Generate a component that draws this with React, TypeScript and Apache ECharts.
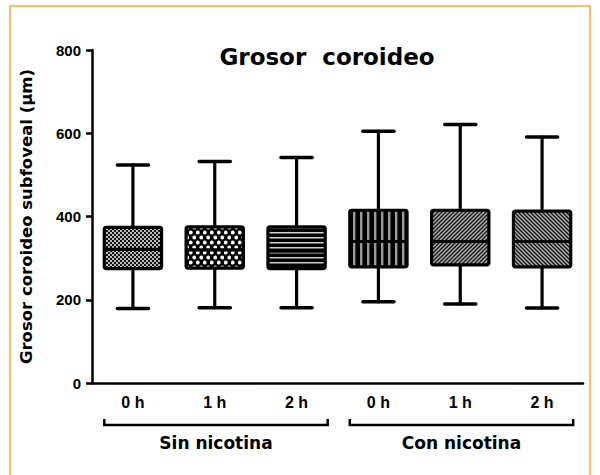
import React, { useEffect, useRef } from "react";
import * as echarts from "echarts";

// ---- data ----
const categories = ["0 h", "1 h", "2 h", "0 h", "1 h", "2 h"];
const groupLabels = ["Sin nicotina", "Con nicotina"];
const groupRanges = [
  [0, 2],
  [3, 5],
];
const minVals = [179, 181, 181, 195, 190, 180];
const q1Vals = [275, 276, 275, 279, 284, 279];
const medVals = [321, 320, 317, 340, 340, 340];
const q3Vals = [374, 375, 375, 415, 415, 413];
const maxVals = [524, 532, 542, 605, 621, 591];
const yMin = 0;
const yMax = 800;
const yInterval = 200;
const titleText = "Grosor\u00a0 coroideo";
const yAxisName = "Grosor coroideo subfoveal (\u03bcm)";

// ---- pattern styles ----
const svgUrl = (w: number, h: number, body: string) =>
  "data:image/svg+xml;charset=utf-8," +
  encodeURIComponent(
    `<svg xmlns="http://www.w3.org/2000/svg" width="${w}" height="${h}" viewBox="0 0 ${w} ${h}">${body}</svg>`
  );
const pat = (w: number, h: number, body: string) => ({
  image: svgUrl(w, h, body),
  repeat: "repeat",
  imageWidth: w,
  imageHeight: h,
});
const patterns = [
  pat(4, 4, `<rect width="4" height="4" fill="#bdbdbd"/><rect width="2" height="2" fill="#111"/><rect x="2" y="2" width="2" height="2" fill="#111"/>`),
  pat(7, 10, `<rect width="7" height="10" fill="#000"/><circle cx="1.75" cy="2.5" r="1.9" fill="#fff"/><circle cx="5.25" cy="7.5" r="1.9" fill="#fff"/>`),
  pat(5, 5, `<rect width="5" height="5" fill="#000"/><rect y="2" width="5" height="1.5" fill="#cfcfcf"/>`),
  pat(7, 7, `<rect width="7" height="7" fill="#000"/><rect x="3" width="2.4" height="7" fill="#9a9a9a"/>`),
  pat(4, 4, `<rect width="4" height="4" fill="#1a1a1a"/><path d="M-1,1 L1,-1 M0,4 L4,0 M3,5 L5,3" stroke="#b5b5b5" stroke-width="1.3"/>`),
  pat(4, 4, `<rect width="4" height="4" fill="#1a1a1a"/><path d="M-1,3 L1,5 M0,0 L4,4 M3,-1 L5,1" stroke="#b5b5b5" stroke-width="1.3"/>`),
];

const seriesData = categories.map((_, i) => [i, minVals[i], q1Vals[i], medVals[i], q3Vals[i], maxVals[i]]);

export default function App() {
  const ref = useRef<HTMLDivElement>(null);
  useEffect(() => {
    if (!ref.current) return;
    const chart = echarts.init(ref.current, null, { renderer: "svg" });
    const lw = 3.2;
    const option: any = {
      animation: false,
      backgroundColor: "#fff",
      textStyle: { fontFamily: "Liberation Sans, Arial, sans-serif" },
      grid: { left: 92, right: 17, top: 50, bottom: 92 },
      xAxis: {
        type: "category",
        data: categories.map((_, i) => String(i)),
        axisLine: { lineStyle: { color: "#000", width: 2.5 } },
        axisTick: { alignWithLabel: true, length: 6, lineStyle: { color: "#000", width: 2.5 } },
        axisLabel: {
          formatter: (_v: string, i: number) => categories[i],
          color: "#000",
          fontWeight: "bold",
          fontSize: 16,
          margin: 11,
          fontFamily: "Liberation Sans, Arial, sans-serif",
        },
        splitLine: { show: false },
      },
      yAxis: {
        type: "value",
        min: yMin,
        max: yMax,
        interval: yInterval,
        name: yAxisName,
        nameLocation: "middle",
        nameRotate: 90,
        nameGap: 57,
        nameTextStyle: {
          color: "#000",
          fontWeight: "bold",
          fontSize: 16.5,
          fontFamily: "DejaVu Sans, sans-serif",
        },
        axisLine: { show: true, lineStyle: { color: "#000", width: 2.5 } },
        axisTick: { show: true, length: 6, lineStyle: { color: "#000", width: 2.5 } },
        axisLabel: {
          color: "#000",
          fontWeight: "bold",
          fontSize: 15,
          margin: 11,
          fontFamily: "Liberation Sans, Arial, sans-serif",
        },
        splitLine: { show: false },
      },
      series: [
        {
          type: "custom",
          data: seriesData,
          encode: { x: 0, y: [1, 2, 3, 4, 5] },
          renderItem: (params: any, api: any) => {
            const xi = api.value(0);
            const pMin = api.coord([xi, api.value(1)]);
            const pQ1 = api.coord([xi, api.value(2)]);
            const pMed = api.coord([xi, api.value(3)]);
            const pQ3 = api.coord([xi, api.value(4)]);
            const pMax = api.coord([xi, api.value(5)]);
            const band = api.size([1, 0])[0];
            const bw = band * 0.7;
            const cw = band * 0.38;
            const cx = pMed[0];
            const ls = { stroke: "#000", lineWidth: lw, lineCap: "round" };
            return {
              type: "group",
              children: [
                { type: "line", shape: { x1: cx, y1: pMax[1], x2: cx, y2: pQ3[1] }, style: ls },
                { type: "line", shape: { x1: cx, y1: pQ1[1], x2: cx, y2: pMin[1] }, style: ls },
                { type: "line", shape: { x1: cx - cw / 2, y1: pMax[1], x2: cx + cw / 2, y2: pMax[1] }, style: { ...ls, lineWidth: 3.5 } },
                { type: "line", shape: { x1: cx - cw / 2, y1: pMin[1], x2: cx + cw / 2, y2: pMin[1] }, style: { ...ls, lineWidth: 3.5 } },
                {
                  type: "rect",
                  shape: { x: cx - bw / 2, y: pQ3[1], width: bw, height: pQ1[1] - pQ3[1], r: 2 },
                  style: { fill: patterns[params.dataIndex % patterns.length], stroke: "#000", lineWidth: lw },
                },
                { type: "line", shape: { x1: cx - bw / 2, y1: pMed[1], x2: cx + bw / 2, y2: pMed[1] }, style: { stroke: "#000", lineWidth: 3.2 } },
              ],
            };
          },
        },
      ],
      graphic: [
        {
          id: "frame",
          type: "rect",
          shape: { x: 10, y: 6, width: 580, height: 500 },
          style: { fill: "none", stroke: "#F7A53C", lineWidth: 1.5 },
          silent: true,
        },
        {
          id: "title",
          type: "text",
          x: 327,
          y: 57,
          style: {
            text: titleText,
            fill: "#000",
            font: "bold 23px 'DejaVu Sans', sans-serif",
            align: "center",
            verticalAlign: "middle",
          },
        },
      ],
    };
    chart.setOption(option);

    // group brackets under the x axis
    const axisY = chart.convertToPixel({ yAxisIndex: 0 }, 0) as number;
    const band = (chart.convertToPixel({ xAxisIndex: 0 }, "1") as number) - (chart.convertToPixel({ xAxisIndex: 0 }, "0") as number);
    const extra: any[] = [];
    groupRanges.forEach((r, gi) => {
      const xa = (chart.convertToPixel({ xAxisIndex: 0 }, String(r[0])) as number) - band * 0.35;
      const xb = (chart.convertToPixel({ xAxisIndex: 0 }, String(r[1])) as number) + band * 0.38;
      const by = axisY + 42;
      extra.push({
        id: "br" + gi,
        type: "polyline",
        shape: { points: [[xa, by - 6], [xa, by], [xb, by], [xb, by - 6]] },
        style: { fill: "none", stroke: "#000", lineWidth: 2.5 },
      });
      extra.push({
        id: "gl" + gi,
        type: "text",
        x: (xa + xb) / 2,
        y: by + 18,
        style: {
          text: groupLabels[gi],
          fill: "#000",
          font: "bold 17px 'DejaVu Sans', sans-serif",
          align: "center",
          verticalAlign: "middle",
        },
      });
    });
    chart.setOption({ graphic: extra });
    return () => chart.dispose();
  }, []);
  return <div ref={ref} style={{ position: "fixed", left: 0, top: 0, width: 600, height: 475 }} />;
}
